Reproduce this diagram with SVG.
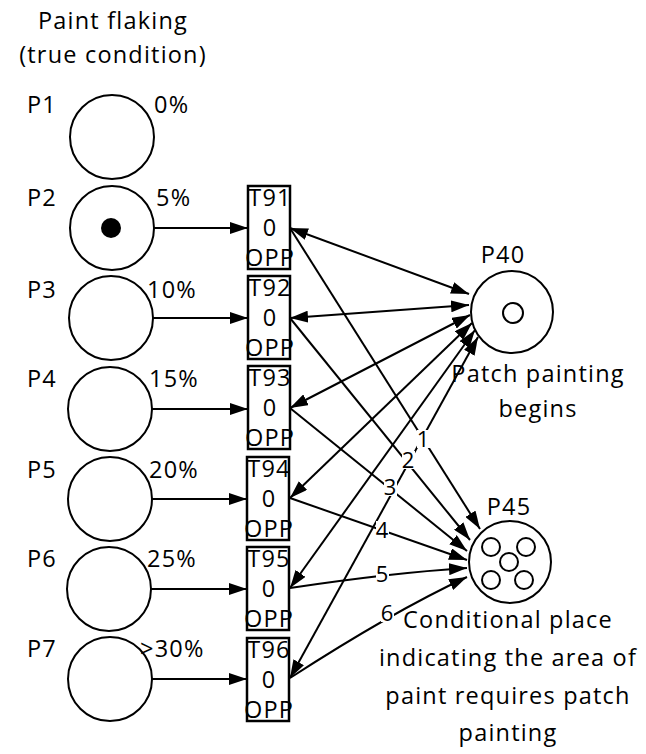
<svg xmlns="http://www.w3.org/2000/svg" width="646" height="754" viewBox="0 0 646 754">
<style>
text{font-family:"Open Sans","Noto Sans","Liberation Sans",sans-serif;font-size:23.5px;letter-spacing:1.2px;fill:#000}
.c{text-anchor:middle}
.pl{fill:#fff;stroke:#000;stroke-width:2}
.tr{fill:#fff;stroke:#000;stroke-width:2.5}
.ln{fill:none;stroke:#000;stroke-width:2}
.lb{font-size:22px;letter-spacing:0}
.bg{fill:#fff}
</style>
<defs>
<marker id="ah" viewBox="0 0 18 12" refX="18" refY="6" markerWidth="18" markerHeight="12" markerUnits="userSpaceOnUse" orient="auto-start-reverse">
<path d="M0,0 L18,6 L0,12 Z" fill="#000"/>
</marker>
</defs>
<rect width="646" height="754" fill="#fff"/>
<g id="title">
<text class="c" x="113" y="29">Paint flaking</text>
<text class="c" x="113" y="63">(true condition)</text>
</g>
<g id="connectors">
<line class="ln" x1="153" y1="228" x2="248" y2="228" marker-end="url(#ah)"/>
<line class="ln" x1="153" y1="318" x2="248" y2="318" marker-end="url(#ah)"/>
<line class="ln" x1="152" y1="409" x2="248" y2="409" marker-end="url(#ah)"/>
<line class="ln" x1="152" y1="499" x2="247" y2="499" marker-end="url(#ah)"/>
<line class="ln" x1="151" y1="589" x2="247" y2="589" marker-end="url(#ah)"/>
<line class="ln" x1="152" y1="679" x2="247" y2="679" marker-end="url(#ah)"/>
<line class="ln" x1="290" y1="228" x2="469" y2="294" marker-start="url(#ah)" marker-end="url(#ah)"/>
<line class="ln" x1="290" y1="318" x2="469" y2="305" marker-start="url(#ah)" marker-end="url(#ah)"/>
<line class="ln" x1="290" y1="408" x2="470" y2="315" marker-start="url(#ah)" marker-end="url(#ah)"/>
<line class="ln" x1="290" y1="498" x2="472" y2="323" marker-start="url(#ah)" marker-end="url(#ah)"/>
<line class="ln" x1="290" y1="588" x2="475" y2="330" marker-start="url(#ah)" marker-end="url(#ah)"/>
<line class="ln" x1="290" y1="678" x2="478" y2="337" marker-start="url(#ah)" marker-end="url(#ah)"/>
<line class="ln" x1="290" y1="228" x2="480" y2="529" marker-end="url(#ah)"/>
<line class="ln" x1="290" y1="318" x2="470" y2="540" marker-end="url(#ah)"/>
<line class="ln" x1="290" y1="408" x2="467" y2="551" marker-end="url(#ah)"/>
<line class="ln" x1="290" y1="498" x2="467" y2="560" marker-end="url(#ah)"/>
<path class="ln" d="M290,588 Q390,573 467,568" marker-end="url(#ah)"/>
<path class="ln" d="M290,678 Q392,612 467,577" marker-end="url(#ah)"/>
<rect class="bg" x="417" y="430" width="13" height="18"/>
<text class="lb c" x="423" y="447">1</text>
<rect class="bg" x="402" y="451" width="13" height="18"/>
<text class="lb c" x="408" y="468">2</text>
<rect class="bg" x="384" y="478" width="13" height="18"/>
<text class="lb c" x="390" y="495">3</text>
<rect class="bg" x="376" y="521" width="13" height="18"/>
<text class="lb c" x="382" y="538">4</text>
<rect class="bg" x="376" y="565" width="13" height="18"/>
<text class="lb c" x="382" y="582">5</text>
<rect class="bg" x="381" y="605" width="13" height="17"/>
<text class="lb c" x="387" y="621">6</text>
</g>
<g id="P1"><circle class="pl" cx="112" cy="137" r="42"/><text x="27" y="113">P1</text><text x="154" y="113">0%</text></g>
<g id="P2"><circle class="pl" cx="112" cy="228" r="42"/><circle cx="111" cy="228" r="10" fill="#000"/><text x="27" y="206">P2</text><text x="156" y="206">5%</text></g>
<g id="P3"><circle class="pl" cx="111" cy="318" r="42"/><text x="27" y="298">P3</text><text x="147" y="298">10%</text></g>
<g id="P4"><circle class="pl" cx="110" cy="409" r="42"/><text x="27" y="387">P4</text><text x="149" y="387">15%</text></g>
<g id="P5"><circle class="pl" cx="110" cy="499" r="42"/><text x="27" y="478">P5</text><text x="149" y="478">20%</text></g>
<g id="P6"><circle class="pl" cx="109" cy="589" r="42"/><text x="27" y="567">P6</text><text x="147" y="567">25%</text></g>
<g id="P7"><circle class="pl" cx="110" cy="679" r="42"/><text x="27" y="657">P7</text><text x="140" y="657">&gt;30%</text></g>
<g id="T91"><rect class="tr" x="248" y="186" width="42" height="83"/><text class="c" x="270" y="206">T91</text><text class="c" x="270" y="236">0</text><text class="c" x="270" y="266">OPP</text></g>
<g id="T92"><rect class="tr" x="248" y="276" width="42" height="83"/><text class="c" x="270" y="296">T92</text><text class="c" x="270" y="326">0</text><text class="c" x="270" y="356">OPP</text></g>
<g id="T93"><rect class="tr" x="248" y="366" width="42" height="83"/><text class="c" x="270" y="386">T93</text><text class="c" x="270" y="416">0</text><text class="c" x="270" y="446">OPP</text></g>
<g id="T94"><rect class="tr" x="247" y="457" width="42" height="83"/><text class="c" x="269" y="477">T94</text><text class="c" x="269" y="507">0</text><text class="c" x="269" y="537">OPP</text></g>
<g id="T95"><rect class="tr" x="247" y="547" width="42" height="83"/><text class="c" x="269" y="567">T95</text><text class="c" x="269" y="597">0</text><text class="c" x="269" y="627">OPP</text></g>
<g id="T96"><rect class="tr" x="247" y="638" width="42" height="83"/><text class="c" x="269" y="658">T96</text><text class="c" x="269" y="688">0</text><text class="c" x="269" y="718">OPP</text></g>
<g id="P40"><circle class="pl" cx="512" cy="312" r="41"/><circle class="ln" cx="513" cy="313" r="10"/><text class="c" x="503" y="263">P40</text><text class="c" x="538" y="382">Patch painting</text><text class="c" x="538" y="417">begins</text></g>
<g id="P45"><circle class="pl" cx="510" cy="562" r="41"/><circle class="ln" cx="491" cy="547" r="9"/><circle class="ln" cx="526" cy="547" r="9"/><circle class="ln" cx="509" cy="562" r="9"/><circle class="ln" cx="491" cy="580" r="9"/><circle class="ln" cx="524" cy="580" r="9"/><text class="c" x="509" y="515">P45</text><text class="c" x="508" y="628">Conditional place</text><text class="c" x="508" y="666">indicating the area of</text><text class="c" x="508" y="704">paint requires patch</text><text class="c" x="508" y="741">painting</text></g>
</svg>
